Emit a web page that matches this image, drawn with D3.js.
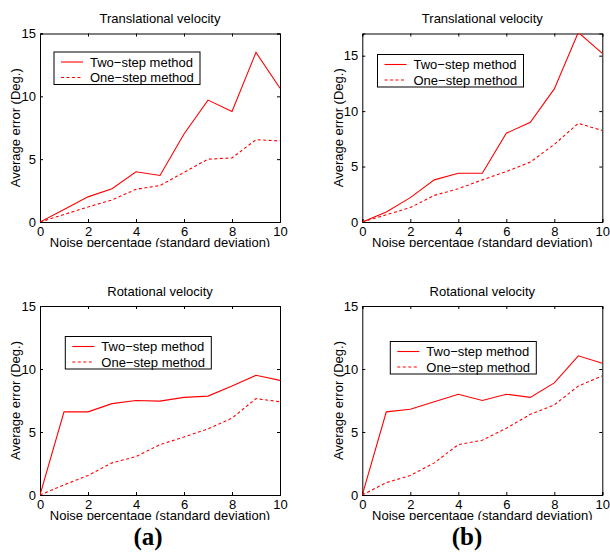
<!DOCTYPE html>
<html>
<head>
<meta charset="utf-8">
<script src="https://cdn.jsdelivr.net/npm/d3@7"></script>
<style>
  html, body { margin: 0; padding: 0; background: #fff; }
  svg { display: block; font-family: "Liberation Sans", Arial, Helvetica, sans-serif; }
</style>
</head>
<body>
<div id="chart"></div>
<script>
// noise levels (x) shared by every panel
const noiseLevels = [0, 1, 2, 3, 4, 5, 6, 7, 8, 9, 10];
const xTicks = [0, 2, 4, 6, 8, 10];
const yTicks = [0, 5, 10, 15];
const seriesNames = ['Two\u2212step method', 'One\u2212step method'];

// (a) translational velocity
const transTwoStepA = [0, 1.0, 2.0, 2.65, 4.0, 3.7, 7.0, 9.7, 8.8, 13.5, 10.65];
const transOneStepA = [0, 0.6, 1.2, 1.75, 2.6, 2.9, 3.95, 5.0, 5.1, 6.55, 6.45];
// (b) translational velocity
const transTwoStepB = [0, 0.9, 2.2, 3.8, 4.4, 4.4, 8.0, 9.0, 12.0, 17.1, 15.2];
const transOneStepB = [0, 0.65, 1.3, 2.4, 3.0, 3.8, 4.55, 5.4, 7.0, 8.9, 8.25];
// (a) rotational velocity
const rotTwoStepA = [0, 6.6, 6.6, 7.25, 7.5, 7.45, 7.75, 7.85, 8.65, 9.5, 9.1];
const rotOneStepA = [0, 0.8, 1.55, 2.55, 3.05, 4.0, 4.6, 5.25, 6.1, 7.65, 7.4];
// (b) rotational velocity
const rotTwoStepB = [0, 6.6, 6.8, 7.4, 8.0, 7.5, 8.0, 7.75, 8.9, 11.05, 10.45];
const rotOneStepB = [0, 0.98, 1.55, 2.55, 4.0, 4.35, 5.3, 6.4, 7.15, 8.65, 9.45];

const width = 610;
const height = 556;
const red = '#ff0000';

// panel layout: plot box in pixels, y max and legend box origin
const panels = [
  { title: 'Translational velocity', two: transTwoStepA, one: transOneStepA, yMax: 15,
    left: 40, right: 280, top: 33.5, bottom: 222, legendX: 54, legendY: 52 },
  { title: 'Translational velocity', two: transTwoStepB, one: transOneStepB, yMax: 17,
    left: 362.3, right: 602.3, top: 33.5, bottom: 222, legendX: 377.5, legendY: 54.5 },
  { title: 'Rotational velocity', two: rotTwoStepA, one: rotOneStepA, yMax: 15,
    left: 40, right: 280, top: 306, bottom: 495, legendX: 65.3, legendY: 336.5 },
  { title: 'Rotational velocity', two: rotTwoStepB, one: rotOneStepB, yMax: 15,
    left: 362.3, right: 602.3, top: 306, bottom: 495, legendX: 390.3, legendY: 341.5 },
];

const svg = d3.select('#chart')
  .append('svg')
  .attr('width', width)
  .attr('height', height);

const defs = svg.append('defs');

// drawPanel()
// draws one MATLAB-style plot: box, inward ticks on all sides, two red lines, legend
function drawPanel(p, i) {
  const x = d3.scaleLinear().domain([0, 10]).range([p.left, p.right]);
  const y = d3.scaleLinear().domain([0, p.yMax]).range([p.bottom, p.top]);
  const g = svg.append('g');

  // clip for the data lines
  defs.append('clipPath').attr('id', 'plot' + i)
    .append('rect')
    .attr('x', p.left).attr('y', p.top)
    .attr('width', p.right - p.left).attr('height', p.bottom - p.top);
  // clip for the cut-off x label
  defs.append('clipPath').attr('id', 'xlab' + i)
    .append('rect')
    .attr('x', 0).attr('y', p.bottom + 10)
    .attr('width', width).attr('height', 15);

  // axes (ticks pointing inward)
  const fmt = d3.format('d');
  g.append('g').attr('transform', `translate(0,${p.bottom})`)
    .call(d3.axisBottom(x).tickValues(xTicks).tickSize(-3).tickPadding(5).tickFormat(fmt));
  g.append('g').attr('transform', `translate(0,${p.top})`)
    .call(d3.axisTop(x).tickValues(xTicks).tickSize(-3).tickFormat(''));
  g.append('g').attr('transform', `translate(${p.left},0)`)
    .call(d3.axisLeft(y).tickValues(yTicks).tickSize(-3).tickPadding(4).tickFormat(fmt));
  g.append('g').attr('transform', `translate(${p.right},0)`)
    .call(d3.axisRight(y).tickValues(yTicks).tickSize(-3).tickFormat(''));

  g.selectAll('.domain').attr('stroke', '#000').attr('stroke-width', 1);
  g.selectAll('.tick line').attr('stroke', '#000');
  g.selectAll('.tick text')
    .attr('fill', '#000')
    .style('font-size', '13px')
    .style('font-family', '"Liberation Sans", Arial, sans-serif');

  // lines
  const line = d3.line()
    .x((d, k) => x(noiseLevels[k]))
    .y(d => y(d));
  const lines = g.append('g').attr('clip-path', `url(#plot${i})`);
  lines.append('path').datum(p.two)
    .attr('d', line).attr('fill', 'none')
    .attr('stroke', red).attr('stroke-width', 1.1);
  lines.append('path').datum(p.one)
    .attr('d', line).attr('fill', 'none')
    .attr('stroke', red).attr('stroke-width', 1.1)
    .attr('stroke-dasharray', '3,2.5');

  // title
  g.append('text')
    .attr('x', (p.left + p.right) / 2)
    .attr('y', p.top - 10.5)
    .attr('text-anchor', 'middle')
    .style('font-size', '13px')
    .text(p.title);

  // x label, bottom clipped like the scan
  g.append('text')
    .attr('clip-path', `url(#xlab${i})`)
    .attr('x', (p.left + p.right) / 2)
    .attr('y', p.bottom + 24.5)
    .attr('text-anchor', 'middle')
    .style('font-size', '13px')
    .text('Noise percentage (standard deviation)');

  // y label
  g.append('text')
    .attr('transform', `translate(${p.left - 19.8},${(p.top + p.bottom) / 2}) rotate(-90)`)
    .attr('text-anchor', 'middle')
    .style('font-size', '13px')
    .text('Average error (Deg.)');

  // legend
  const lg = g.append('g').attr('transform', `translate(${p.legendX},${p.legendY})`);
  lg.append('rect')
    .attr('width', 146).attr('height', 32.5)
    .attr('fill', '#fff').attr('stroke', '#000').attr('stroke-width', 1);
  seriesNames.forEach((name, k) => {
    const ry = 10 + k * 15.5;
    lg.append('line')
      .attr('x1', 7).attr('x2', 29).attr('y1', ry).attr('y2', ry)
      .attr('stroke', red).attr('stroke-width', 1.1)
      .attr('stroke-dasharray', k === 1 ? '3,2.5' : null);
    lg.append('text')
      .attr('x', 36).attr('y', ry + 4.5)
      .style('font-size', '13px')
      .text(name);
  });
}

panels.forEach(drawPanel);

// sub-figure captions
svg.append('text')
  .attr('x', 148).attr('y', 545)
  .attr('text-anchor', 'middle')
  .style('font-family', '"Liberation Serif", "Times New Roman", serif')
  .style('font-weight', 'bold')
  .style('font-size', '25px')
  .text('(a)');
svg.append('text')
  .attr('x', 467).attr('y', 545)
  .attr('text-anchor', 'middle')
  .style('font-family', '"Liberation Serif", "Times New Roman", serif')
  .style('font-weight', 'bold')
  .style('font-size', '25px')
  .text('(b)');
</script>
</body>
</html>
